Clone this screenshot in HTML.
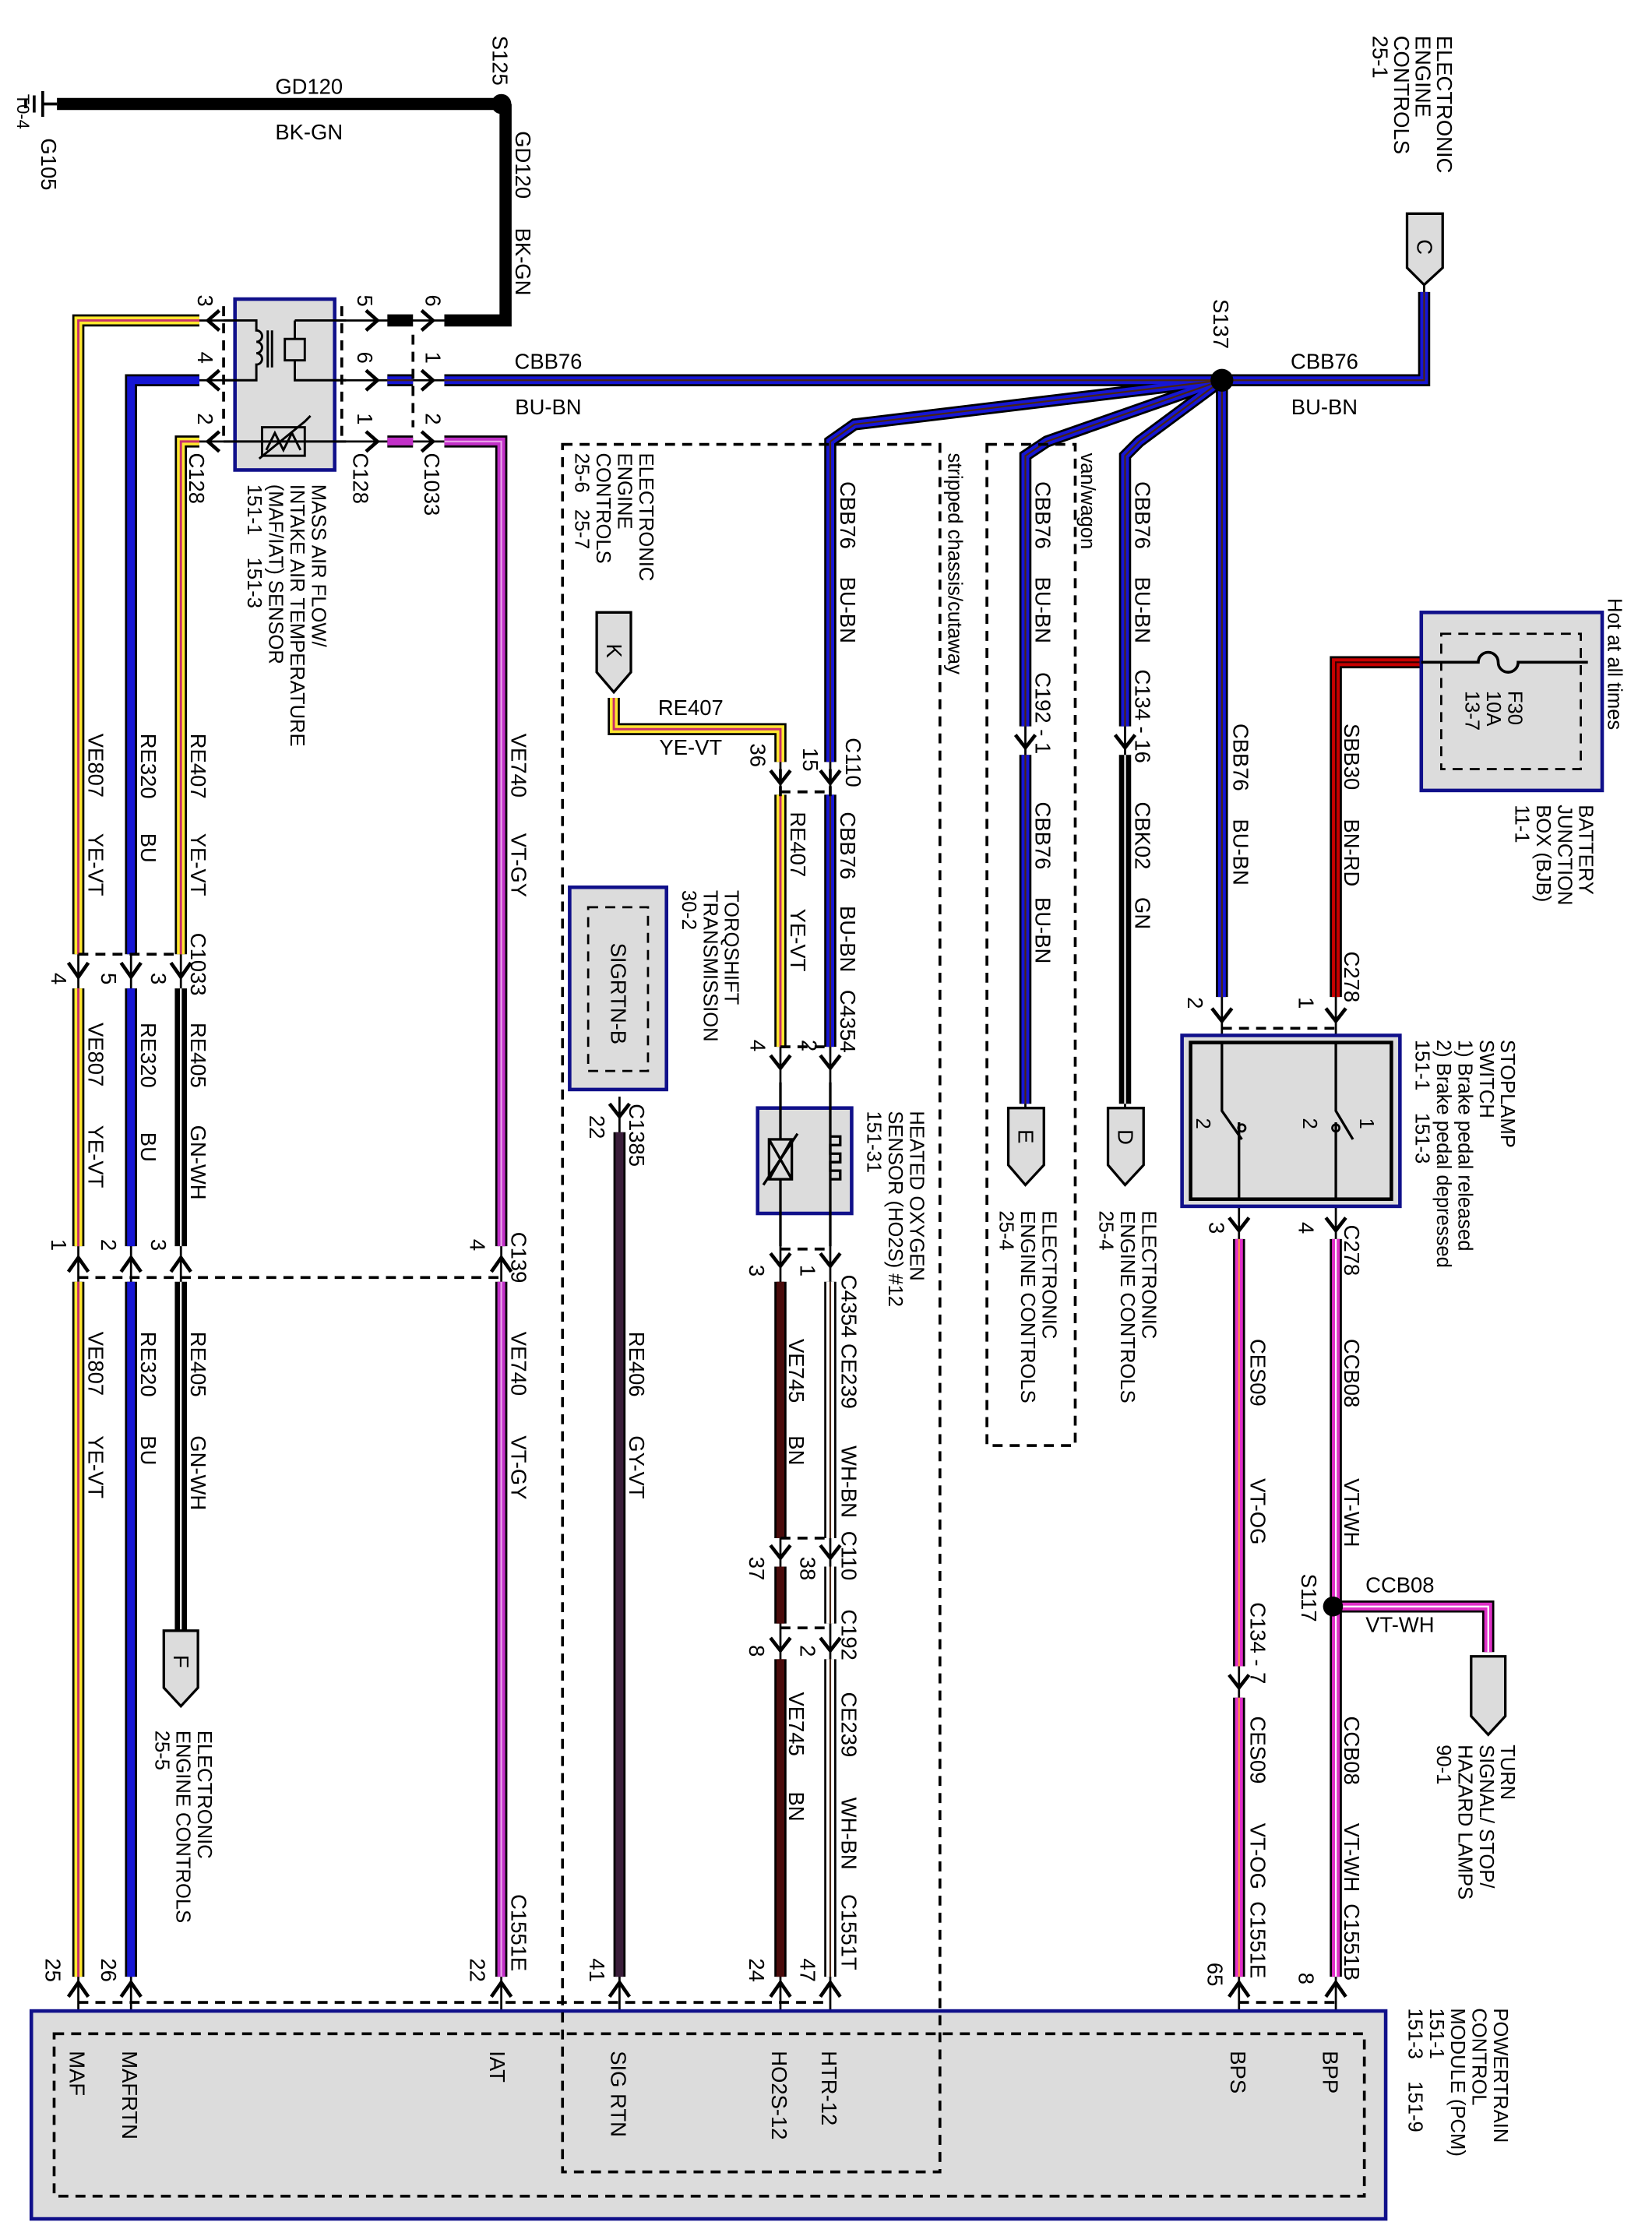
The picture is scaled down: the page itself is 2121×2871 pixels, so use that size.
<!DOCTYPE html>
<html><head><meta charset="utf-8">
<style>
html,body{margin:0;padding:0;background:#fff;}
svg{display:block;}
text{font-family:"Liberation Sans",Arial,sans-serif;font-size:15px;fill:#000;}
.s{font-size:14px;}
.o{fill:none;stroke:#000;stroke-width:8.5;}
.bu{fill:none;stroke:#1616d4;stroke-width:5.5;}
.bn{fill:none;stroke:#4a2510;stroke-width:1.2;}
.ye{fill:none;stroke:#ffe830;stroke-width:5.5;}
.vs{fill:none;stroke:#c8306a;stroke-width:1.6;}
.vt{fill:none;stroke:#c230c8;stroke-width:5.5;}
.pk{fill:none;stroke:#e030c8;stroke-width:5.5;}
.wh{fill:none;stroke:#fff;stroke-width:5.5;}
.wl{fill:none;stroke:#fff;stroke-width:1.2;}
.br{fill:none;stroke:#4a0c0c;stroke-width:5.5;}
.rd{fill:none;stroke:#c80000;stroke-width:5.5;}
.gy{fill:none;stroke:#3a1e3a;stroke-width:5.5;}
.th{fill:none;stroke:#000;stroke-width:1.5;}
.ch{fill:none;stroke:#000;stroke-width:2.5;}
.da{fill:none;stroke:#000;stroke-width:2;stroke-dasharray:7 5;}
.box{fill:#dcdcdc;stroke:#10108a;stroke-width:2.5;}
.con{fill:#dcdcdc;stroke:#000;stroke-width:1.8;}
</style></head><body>
<svg width="2121" height="2871" viewBox="0 0 1160 1570" preserveAspectRatio="none" xmlns="http://www.w3.org/2000/svg">
<defs>
<path id="g1" d="M40,73 H352"/>
<path id="g2" d="M355,73 V225 H312"/>
<path id="g3" d="M272,225 H290"/>
<path id="b1" d="M312,267 H858"/>
<path id="b2" d="M858,267 H1000 V205"/>
<path id="b3" d="M858,267 L600,298 L583,310 V535"/>
<path id="b4" d="M583,558 V735"/>
<path id="b5" d="M858,267 L735,310 L720,320 V510"/>
<path id="b6" d="M720,530 V775"/>
<path id="b7" d="M858,267 L800,310 L790,320 V510"/>
<path id="b8" d="M858,267 V700"/>
<path id="b9" d="M272,267 H290"/>
<path id="k1" d="M790,530 V775"/>
<path id="u1" d="M140,267 H92 V670"/>
<path id="u2" d="M92,694 V875"/>
<path id="u3" d="M92,900 V1388"/>
<path id="y1" d="M140,225 H55 V670"/>
<path id="y2" d="M55,694 V875"/>
<path id="y3" d="M55,900 V1388"/>
<path id="y4" d="M140,310 H127 V670"/>
<path id="y5" d="M431,490 V512 H548 V535"/>
<path id="y6" d="M548,558 V735"/>
<path id="n1" d="M127,694 V875"/>
<path id="n2" d="M127,900 V1145"/>
<path id="v1" d="M312,310 H352 V875"/>
<path id="v2" d="M352,900 V1388"/>
<path id="v3" d="M272,310 H290"/>
<path id="p1" d="M938,870 V1388"/>
<path id="p2" d="M938,1128 H1045 V1160"/>
<path id="p3" d="M870,870 V1170"/>
<path id="p4" d="M870,1192 V1388"/>
<path id="r1" d="M998,465 H938 V700"/>
<path id="q1" d="M435,795 V1388"/>
<path id="e1" d="M548,900 V1080"/>
<path id="e2" d="M548,1100 V1140"/>
<path id="e3" d="M548,1165 V1388"/>
<path id="w1" d="M583,900 V1080"/>
<path id="w2" d="M583,1100 V1140"/>
<path id="w3" d="M583,1165 V1388"/>
</defs>

<g class="th">
<path d="M55,660 V1412 M92,660 V1412 M127,660 V1145 M352,870 V1412 M435,770 V1412 M548,535 V1412 M583,535 V1412 M720,505 V778 M790,505 V778 M858,690 V780 M938,690 V780 M870,800 V1412 M938,800 V1412"/>
<path d="M140,225 H312 M140,267 H312 M140,310 H312"/>
<path d="M1000,200 V210"/>
</g>

<g class="o">
<use href="#b1"/><use href="#b2"/><use href="#b3"/><use href="#b4"/><use href="#b5"/><use href="#b6"/><use href="#b7"/><use href="#b8"/><use href="#b9"/>
<use href="#k1"/><use href="#u1"/><use href="#u2"/><use href="#u3"/>
<use href="#y1"/><use href="#y2"/><use href="#y3"/><use href="#y4"/><use href="#y5"/><use href="#y6"/>
<use href="#n1"/><use href="#n2"/><use href="#v1"/><use href="#v2"/><use href="#v3"/>
<use href="#p1"/><use href="#p2"/><use href="#p3"/><use href="#p4"/><use href="#r1"/><use href="#q1"/>
<use href="#e1"/><use href="#e2"/><use href="#e3"/><use href="#w1"/><use href="#w2"/><use href="#w3"/>
<use href="#g1"/><use href="#g2"/><use href="#g3"/>
</g>
<g class="bu"><use href="#b1"/><use href="#b2"/><use href="#b3"/><use href="#b4"/><use href="#b5"/><use href="#b6"/><use href="#b7"/><use href="#b8"/><use href="#b9"/><use href="#u1"/><use href="#u2"/><use href="#u3"/></g>
<g class="bn"><use href="#b1"/><use href="#b2"/><use href="#b3"/><use href="#b4"/><use href="#b5"/><use href="#b6"/><use href="#b7"/><use href="#b8"/><use href="#b9"/></g>
<g class="ye"><use href="#y1"/><use href="#y2"/><use href="#y3"/><use href="#y4"/><use href="#y5"/><use href="#y6"/></g>
<g class="vs"><use href="#y1"/><use href="#y2"/><use href="#y3"/><use href="#y4"/><use href="#y5"/><use href="#y6"/></g>
<g class="wl"><use href="#n1"/><use href="#n2"/><use href="#k1"/></g>
<g class="vt"><use href="#v1"/><use href="#v2"/><use href="#v3"/></g>
<g class="pk"><use href="#p1"/><use href="#p2"/><use href="#p3"/><use href="#p4"/></g>
<g class="wl"><use href="#p1"/><use href="#p2"/></g>
<g style="fill:none;stroke:#ff9040;stroke-width:1.2"><use href="#p3"/><use href="#p4"/></g>
<g style="fill:none;stroke:#e8a0e8;stroke-width:1.2"><use href="#v1"/><use href="#v2"/></g>
<g class="rd"><use href="#r1"/></g>
<g class="bn" style="stroke:#300"><use href="#r1"/></g>
<g class="gy"><use href="#q1"/></g>
<g class="br"><use href="#e1"/><use href="#e2"/><use href="#e3"/></g>
<g class="wh"><use href="#w1"/><use href="#w2"/><use href="#w3"/></g>
<g class="bn"><use href="#w1"/><use href="#w2"/><use href="#w3"/></g>

<circle cx="352" cy="73" r="7"/>
<circle cx="858" cy="267" r="8"/>
<circle cx="936" cy="1128" r="7"/>

<path d="M40,73 H30 M30,64 V82 M24,67 V79 M18,70 V76" class="th" style="stroke-width:2"/>

<g class="ch">
<path d="M48,676 L55,686 L62,676 M85,676 L92,686 L99,676 M120,676 L127,686 L134,676"/>
<path d="M48,893 L55,883 L62,893 M85,893 L92,883 L99,893 M120,893 L127,883 L134,893 M345,893 L352,883 L359,893"/>
<path d="M48,1402 L55,1392 L62,1402 M85,1402 L92,1392 L99,1402 M345,1402 L352,1392 L359,1402 M428,1402 L435,1392 L442,1402 M541,1402 L548,1392 L555,1402 M576,1402 L583,1392 L590,1402 M863,1402 L870,1392 L877,1402 M931,1402 L938,1392 L945,1402"/>
<path d="M541,541 L548,550 L555,541 M576,541 L583,550 L590,541 M541,741 L548,750 L555,741 M576,741 L583,750 L590,741"/>
<path d="M541,880 L548,889 L555,880 M576,880 L583,889 L590,880 M541,1085 L548,1094 L555,1085 M576,1085 L583,1094 L590,1085 M541,1150 L548,1159 L555,1150 M576,1150 L583,1159 L590,1150"/>
<path d="M428,775 L435,784 L442,775 M713,516 L720,525 L727,516 M783,516 L790,525 L797,516"/>
<path d="M851,708 L858,717 L865,708 M931,708 L938,717 L945,708 M863,855 L870,864 L877,855 M931,855 L938,864 L945,855 M863,1176 L870,1185 L877,1176"/>
<path d="M154,218 L146,225 L154,232 M154,260 L146,267 L154,274 M154,303 L146,310 L154,317"/>
<path d="M257,218 L265,225 L257,232 M257,260 L265,267 L257,274 M257,303 L265,310 L257,317"/>
<path d="M296,218 L304,225 L296,232 M296,260 L304,267 L296,274 M296,303 L304,310 L296,317"/>
</g>

<g class="da">
<path d="M55,670 H127 M55,897 H352 M548,556 H583 M548,735 H583 M548,877 H583 M548,1080 H583 M548,1143 H583 M55,1406 H583 M870,1406 H938 M858,722 H938"/>
<path d="M157,215 V310 M240,215 V310 M290,235 V300"/>
<path d="M548,540 V560 M583,540 V560"/>
</g>

<rect x="693" y="312" width="62" height="703" class="da"/>

<rect x="165" y="210" width="70" height="120" class="box"/>
<g class="th" style="stroke-width:1.6">
<path d="M157,225 H180 V232 a4,4 0 0 1 0,8 a4,4 0 0 1 0,8 a4,4 0 0 1 0,8 V267 H157"/>
<path d="M188,232 V258 M191,232 V258"/>
<rect x="200" y="238" width="14" height="15" fill="none"/>
<path d="M207,225 H243 M207,225 V238 M207,253 V267 H243"/>
<rect x="184" y="300" width="30" height="20" fill="none"/>
<path d="M187,316 L193,304 L199,316 L205,304 L211,316 M182,322 L214,296 L218,292"/>
<path d="M157,310 H243"/>
</g>

<path d="M988,150 H1013 V188 L1000,200 L988,188 Z" class="con"/>
<text transform="translate(995,168) rotate(90)">C</text>
<path d="M419,430 H443 V472 L431,486 L419,472 Z" class="con"/>
<text transform="translate(426,452) rotate(90)">K</text>
<path d="M708,778 H733 V818 L720,832 L708,818 Z" class="con"/>
<text transform="translate(715,793) rotate(90)">E</text>
<path d="M778,778 H803 V818 L790,832 L778,818 Z" class="con"/>
<text transform="translate(785,793) rotate(90)">D</text>
<path d="M115,1145 H139 V1185 L127,1198 L115,1185 Z" class="con"/>
<text transform="translate(122,1162) rotate(90)">F</text>
<path d="M1033,1163 H1057 V1205 L1045,1218 L1033,1205 Z" class="con"/>

<rect x="400" y="623" width="68" height="142" class="box"/>
<rect x="413" y="637" width="42" height="115" class="da" style="stroke-width:1.5"/>
<text transform="translate(429,662) rotate(90)">SIGRTN-B</text>

<rect x="532" y="778" width="66" height="74" class="box"/>
<g class="th" style="stroke-width:1.8">
<path d="M548,760 V875 M583,760 V875"/>
<rect x="540" y="800" width="16" height="28" fill="#dcdcdc"/>
<path d="M540,800 L556,828 M556,800 L540,828 M536,832 L560,796"/>
<path d="M583,798 H590 V804 H583 V810 H590 V816 H583 V822 H590 V828 H583" fill="none"/>
</g>

<rect x="830" y="727" width="153" height="120" class="box"/>
<rect x="836" y="732" width="141" height="110" fill="none" stroke="#000" stroke-width="2.5"/>
<g class="th" style="stroke-width:1.8">
<path d="M858,732 V780 L872,800 M870,788 V842"/>
<path d="M938,732 V780 L950,800 M938,788 V842"/>
</g>
<circle cx="872" cy="792" r="2.5" fill="none" stroke="#000" stroke-width="1.5"/>
<circle cx="938" cy="792" r="2.5" fill="none" stroke="#000" stroke-width="1.5"/>
<text transform="translate(840,785) rotate(90)" class="s">2</text>
<text transform="translate(915,785) rotate(90)" class="s">2</text>
<text transform="translate(955,785) rotate(90)" class="s">1</text>

<rect x="998" y="430" width="127" height="125" class="box"/>
<rect x="1012" y="445" width="98" height="95" class="da" style="stroke-width:1.5"/>
<path d="M998,465 H1038 a7,7 0 0 1 14,0 a7,7 0 0 0 14,0 H1115" class="th" style="stroke-width:2"/>

<rect x="22" y="1412" width="951" height="146" class="box"/>
<rect x="38" y="1428" width="920" height="114" class="da"/>
<rect x="395" y="312" width="265" height="1213" class="da"/>

<text x="217" y="66" text-anchor="middle">GD120</text>
<text x="217" y="98" text-anchor="middle">BK-GN</text>
<text x="385" y="259" text-anchor="middle">CBB76</text>
<text x="385" y="291" text-anchor="middle">BU-BN</text>
<text x="930" y="259" text-anchor="middle">CBB76</text>
<text x="930" y="291" text-anchor="middle">BU-BN</text>
<text x="485" y="502" text-anchor="middle">RE407</text>
<text x="485" y="530" text-anchor="middle">YE-VT</text>
<text x="983" y="1118" text-anchor="middle">CCB08</text>
<text x="983" y="1146" text-anchor="middle">VT-WH</text>

<g>
<text transform="translate(346,25) rotate(90)">S125</text>
<text transform="translate(29,97) rotate(90)">G105</text>
<text transform="translate(12,66) rotate(90)" style="font-size:12px">T0-4</text>
<text transform="translate(362,92) rotate(90)">GD120</text>
<text transform="translate(362,160) rotate(90)">BK-GN</text>

<text transform="translate(139,207) rotate(90)">3</text>
<text transform="translate(139,247) rotate(90)">4</text>
<text transform="translate(139,290) rotate(90)">2</text>
<text transform="translate(251,207) rotate(90)">5</text>
<text transform="translate(251,247) rotate(90)">6</text>
<text transform="translate(251,290) rotate(90)">1</text>
<text transform="translate(299,207) rotate(90)">6</text>
<text transform="translate(299,247) rotate(90)">1</text>
<text transform="translate(299,290) rotate(90)">2</text>
<text transform="translate(133,318) rotate(90)">C128</text>
<text transform="translate(248,318) rotate(90)">C128</text>
<text transform="translate(298,318) rotate(90)">C1033</text>

<text transform="translate(219,340) rotate(90)" class="s">MASS AIR FLOW/</text>
<text transform="translate(204,340) rotate(90)" class="s">INTAKE AIR TEMPERATURE</text>
<text transform="translate(189,340) rotate(90)" class="s">(MAF/IAT) SENSOR</text>
<text transform="translate(174,340) rotate(90)" class="s">151-1&#160;&#160;&#160;&#160;151-3</text>

<text transform="translate(852,210) rotate(90)">S137</text>
<text transform="translate(1009,25) rotate(90)">ELECTRONIC</text>
<text transform="translate(994,25) rotate(90)">ENGINE</text>
<text transform="translate(979,25) rotate(90)">CONTROLS</text>
<text transform="translate(964,25) rotate(90)">25-1</text>

<text transform="translate(666,318) rotate(90)" class="s">stripped chassis/cutaway</text>
<text transform="translate(449,318) rotate(90)" class="s">ELECTRONIC</text>
<text transform="translate(434,318) rotate(90)" class="s">ENGINE</text>
<text transform="translate(419,318) rotate(90)" class="s">CONTROLS</text>
<text transform="translate(404,318) rotate(90)" class="s">25-6&#160;&#160;&#160;25-7</text>
<text transform="translate(759,318) rotate(90)" class="s">van/wagon</text>

<text transform="translate(590,338) rotate(90)">CBB76</text>
<text transform="translate(590,405) rotate(90)">BU-BN</text>
<text transform="translate(594,518) rotate(90)">C110</text>
<text transform="translate(564,525) rotate(90)">15</text>
<text transform="translate(527,522) rotate(90)">36</text>
<text transform="translate(590,570) rotate(90)">CBB76</text>
<text transform="translate(590,636) rotate(90)">BU-BN</text>
<text transform="translate(590,695) rotate(90)">C4354</text>
<text transform="translate(555,570) rotate(90)">RE407</text>
<text transform="translate(555,638) rotate(90)">YE-VT</text>
<text transform="translate(527,730) rotate(90)">4</text>
<text transform="translate(563,730) rotate(90)">2</text>

<text transform="translate(509,625) rotate(90)" class="s">TORQSHIFT</text>
<text transform="translate(494,625) rotate(90)" class="s">TRANSMISSION</text>
<text transform="translate(479,625) rotate(90)" class="s">30-2</text>
<text transform="translate(414,783) rotate(90)">22</text>
<text transform="translate(442,775) rotate(90)">C1385</text>
<text transform="translate(442,935) rotate(90)">RE406</text>
<text transform="translate(442,1008) rotate(90)">GY-VT</text>

<text transform="translate(639,780) rotate(90)" class="s">HEATED OXYGEN</text>
<text transform="translate(624,780) rotate(90)" class="s">SENSOR (HO2S) #12</text>
<text transform="translate(609,780) rotate(90)" class="s">151-31</text>
<text transform="translate(526,888) rotate(90)">3</text>
<text transform="translate(562,888) rotate(90)">1</text>
<text transform="translate(591,895) rotate(90)">C4354 CE239</text>
<text transform="translate(591,1015) rotate(90)">WH-BN</text>
<text transform="translate(591,1075) rotate(90)">C110</text>
<text transform="translate(591,1130) rotate(90)">C192</text>
<text transform="translate(591,1188) rotate(90)">CE239</text>
<text transform="translate(591,1262) rotate(90)">WH-BN</text>
<text transform="translate(591,1330) rotate(90)">C1551T</text>
<text transform="translate(554,940) rotate(90)">VE745</text>
<text transform="translate(554,1008) rotate(90)">BN</text>
<text transform="translate(554,1188) rotate(90)">VE745</text>
<text transform="translate(554,1258) rotate(90)">BN</text>
<text transform="translate(526,1093) rotate(90)">37</text>
<text transform="translate(562,1093) rotate(90)">38</text>
<text transform="translate(526,1155) rotate(90)">8</text>
<text transform="translate(562,1155) rotate(90)">2</text>

<text transform="translate(727,338) rotate(90)">CBB76</text>
<text transform="translate(727,405) rotate(90)">BU-BN</text>
<text transform="translate(727,472) rotate(90)">C192 - 1</text>
<text transform="translate(727,563) rotate(90)">CBB76</text>
<text transform="translate(727,630) rotate(90)">BU-BN</text>
<text transform="translate(797,338) rotate(90)">CBB76</text>
<text transform="translate(797,405) rotate(90)">BU-BN</text>
<text transform="translate(797,470) rotate(90)">C134 - 16</text>
<text transform="translate(797,563) rotate(90)">CBK02</text>
<text transform="translate(797,630) rotate(90)">GN</text>
<text transform="translate(732,850) rotate(90)" class="s">ELECTRONIC</text>
<text transform="translate(717,850) rotate(90)" class="s">ENGINE CONTROLS</text>
<text transform="translate(702,850) rotate(90)" class="s">25-4</text>
<text transform="translate(802,850) rotate(90)" class="s">ELECTRONIC</text>
<text transform="translate(787,850) rotate(90)" class="s">ENGINE CONTROLS</text>
<text transform="translate(772,850) rotate(90)" class="s">25-4</text>

<text transform="translate(866,508) rotate(90)">CBB76</text>
<text transform="translate(866,575) rotate(90)">BU-BN</text>
<text transform="translate(944,508) rotate(90)">SBB30</text>
<text transform="translate(944,575) rotate(90)">BN-RD</text>
<text transform="translate(944,668) rotate(90)">C278</text>
<text transform="translate(834,700) rotate(90)">2</text>
<text transform="translate(912,700) rotate(90)">1</text>

<text transform="translate(1054,730) rotate(90)" class="s">STOPLAMP</text>
<text transform="translate(1039,730) rotate(90)" class="s">SWITCH</text>
<text transform="translate(1024,730) rotate(90)" class="s">1) Brake pedal released</text>
<text transform="translate(1009,730) rotate(90)" class="s">2) Brake pedal depressed</text>
<text transform="translate(994,730) rotate(90)" class="s">151-1&#160;&#160;&#160;&#160;151-3</text>

<text transform="translate(849,858) rotate(90)">3</text>
<text transform="translate(912,858) rotate(90)">4</text>
<text transform="translate(944,860) rotate(90)">C278</text>
<text transform="translate(944,940) rotate(90)">CCB08</text>
<text transform="translate(944,1038) rotate(90)">VT-WH</text>
<text transform="translate(914,1105) rotate(90)">S117</text>
<text transform="translate(944,1205) rotate(90)">CCB08</text>
<text transform="translate(944,1280) rotate(90)">VT-WH&#160;&#160;C1551B</text>
<text transform="translate(912,1385) rotate(90)">8</text>
<text transform="translate(878,940) rotate(90)">CES09</text>
<text transform="translate(878,1038) rotate(90)">VT-OG</text>
<text transform="translate(878,1125) rotate(90)">C134 - 7</text>
<text transform="translate(878,1205) rotate(90)">CES09</text>
<text transform="translate(878,1280) rotate(90)">VT-OG&#160;&#160;C1551E</text>
<text transform="translate(848,1378) rotate(90)">65</text>

<text transform="translate(1054,1225) rotate(90)" class="s">TURN</text>
<text transform="translate(1039,1225) rotate(90)" class="s">SIGNAL/ STOP/</text>
<text transform="translate(1024,1225) rotate(90)" class="s">HAZARD LAMPS</text>
<text transform="translate(1009,1225) rotate(90)" class="s">90-1</text>

<text transform="translate(1059,485) rotate(90)" class="s">F30</text>
<text transform="translate(1044,485) rotate(90)" class="s">10A</text>
<text transform="translate(1029,485) rotate(90)" class="s">13-7</text>
<text transform="translate(1129,420) rotate(90)" class="s">Hot at all times</text>
<text transform="translate(1109,565) rotate(90)" class="s">BATTERY</text>
<text transform="translate(1094,565) rotate(90)" class="s">JUNCTION</text>
<text transform="translate(1079,565) rotate(90)" class="s">BOX (BJB)</text>
<text transform="translate(1064,565) rotate(90)" class="s">11-1</text>

<text transform="translate(62,515) rotate(90)">VE807</text>
<text transform="translate(62,585) rotate(90)">YE-VT</text>
<text transform="translate(62,718) rotate(90)">VE807</text>
<text transform="translate(62,790) rotate(90)">YE-VT</text>
<text transform="translate(62,935) rotate(90)">VE807</text>
<text transform="translate(62,1008) rotate(90)">YE-VT</text>
<text transform="translate(99,515) rotate(90)">RE320</text>
<text transform="translate(99,585) rotate(90)">BU</text>
<text transform="translate(99,718) rotate(90)">RE320</text>
<text transform="translate(99,795) rotate(90)">BU</text>
<text transform="translate(99,935) rotate(90)">RE320</text>
<text transform="translate(99,1008) rotate(90)">BU</text>
<text transform="translate(134,515) rotate(90)">RE407</text>
<text transform="translate(134,585) rotate(90)">YE-VT</text>
<text transform="translate(134,655) rotate(90)">C1033</text>
<text transform="translate(134,718) rotate(90)">RE405</text>
<text transform="translate(134,790) rotate(90)">GN-WH</text>
<text transform="translate(134,935) rotate(90)">RE405</text>
<text transform="translate(134,1008) rotate(90)">GN-WH</text>
<text transform="translate(359,515) rotate(90)">VE740</text>
<text transform="translate(359,585) rotate(90)">VT-GY</text>
<text transform="translate(359,865) rotate(90)">C139</text>
<text transform="translate(359,935) rotate(90)">VE740</text>
<text transform="translate(359,1008) rotate(90)">VT-GY</text>
<text transform="translate(359,1330) rotate(90)">C1551E</text>

<text transform="translate(36,683) rotate(90)">4</text>
<text transform="translate(71,683) rotate(90)">5</text>
<text transform="translate(106,683) rotate(90)">3</text>
<text transform="translate(36,870) rotate(90)">1</text>
<text transform="translate(71,870) rotate(90)">2</text>
<text transform="translate(106,870) rotate(90)">3</text>
<text transform="translate(330,870) rotate(90)">4</text>

<text transform="translate(32,1375) rotate(90)">25</text>
<text transform="translate(71,1375) rotate(90)">26</text>
<text transform="translate(330,1375) rotate(90)">22</text>
<text transform="translate(414,1375) rotate(90)">41</text>
<text transform="translate(526,1375) rotate(90)">24</text>
<text transform="translate(562,1375) rotate(90)">47</text>

<text transform="translate(139,1215) rotate(90)" class="s">ELECTRONIC</text>
<text transform="translate(124,1215) rotate(90)" class="s">ENGINE CONTROLS</text>
<text transform="translate(109,1215) rotate(90)" class="s">25-5</text>

<text transform="translate(49,1440) rotate(90)">MAF</text>
<text transform="translate(86,1440) rotate(90)">MAFRTN</text>
<text transform="translate(344,1440) rotate(90)">IAT</text>
<text transform="translate(429,1440) rotate(90)">SIG RTN</text>
<text transform="translate(542,1440) rotate(90)">HO2S-12</text>
<text transform="translate(577,1440) rotate(90)">HTR-12</text>
<text transform="translate(864,1440) rotate(90)">BPS</text>
<text transform="translate(929,1440) rotate(90)">BPP</text>

<text transform="translate(1049,1410) rotate(90)" class="s">POWERTRAIN</text>
<text transform="translate(1034,1410) rotate(90)" class="s">CONTROL</text>
<text transform="translate(1019,1410) rotate(90)" class="s">MODULE (PCM)</text>
<text transform="translate(1004,1410) rotate(90)" class="s">151-1</text>
<text transform="translate(989,1410) rotate(90)" class="s">151-3&#160;&#160;&#160;&#160;151-9</text>
</g>
</svg>
</body></html>
